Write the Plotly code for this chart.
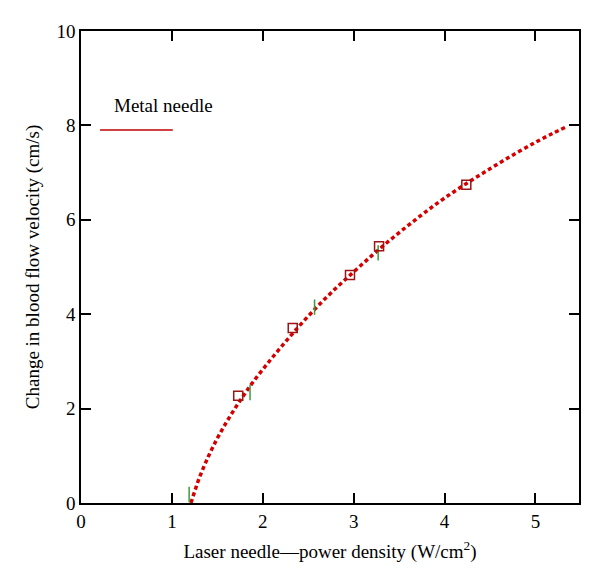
import plotly.graph_objects as go

# Fitted curve (red dotted)
curve_x = [1.21, 1.30, 1.40, 1.50, 1.60, 1.70, 1.80, 1.90, 2.05, 2.20, 2.36, 2.55, 2.75,
           2.98, 3.20, 3.40, 3.60, 3.80, 4.00, 4.25, 4.50, 4.75, 5.00, 5.20, 5.33]
curve_y = [0.00, 0.52, 0.98, 1.37, 1.71, 2.02, 2.31, 2.58, 2.95, 3.30, 3.66, 4.06, 4.45,
           4.86, 5.24, 5.57, 5.88, 6.18, 6.46, 6.78, 7.08, 7.37, 7.64, 7.84, 7.96]

# Open squares (measured points)
sq_x = [1.73, 2.33, 2.96, 3.28, 4.24]
sq_y = [2.27, 3.71, 4.83, 5.44, 6.74]

# Green short vertical marks
gr_x = [1.19, 1.86, 2.57, 3.27]
gr_y = [0.18, 2.34, 4.15, 5.30]

xticks = [0, 1, 2, 3, 4, 5]
yticks = [0, 2, 4, 6, 8, 10]

FONT = "Liberation Serif"

fig = go.Figure()
fig.add_trace(go.Scatter(
    x=curve_x, y=curve_y, mode="lines",
    line=dict(color="#d40000", width=3.5, dash="4px,3px", shape="spline", smoothing=1),
    showlegend=False, hoverinfo="skip"))
fig.add_trace(go.Scatter(
    x=gr_x, y=gr_y, mode="markers",
    marker=dict(symbol="line-ns", size=11, line=dict(color="#3c9a3c", width=1.5)),
    showlegend=False))
fig.add_trace(go.Scatter(
    x=sq_x, y=sq_y, mode="markers",
    marker=dict(symbol="square-open", size=9, color="#9b1515", line=dict(width=1.5)),
    showlegend=False))

fig.add_annotation(x=0.91, y=8.43, xref="x", yref="y", text="Metal needle",
                   showarrow=False, font=dict(family=FONT, size=19, color="black"))
fig.add_shape(type="line", x0=0.21, x1=1.01, y0=7.9, y1=7.9, xref="x", yref="y",
              line=dict(color="#c00000", width=1.5))

axis_common = dict(
    showline=True, linecolor="black", linewidth=1.5, mirror="ticks",
    ticks="inside", ticklen=10, tickcolor="black", tickwidth=1.5,
    showgrid=False, zeroline=False,
    tickfont=dict(family=FONT, size=19, color="black"),
)

fig.update_xaxes(range=[0, 5.48], tickvals=xticks, ticktext=[str(t) for t in xticks],
                 title=dict(text="Laser needle\u2014power density (W/cm<sup>2</sup>)",
                            font=dict(family=FONT, size=19, color="black"), standoff=14),
                 **axis_common)
fig.update_yaxes(range=[0, 10], tickvals=yticks, ticktext=[str(t) for t in yticks],
                 title=dict(text="Change in blood flow velocity (cm/s)",
                            font=dict(family=FONT, size=19, color="black"), standoff=12),
                 **axis_common)

fig.update_layout(
    width=600, height=585,
    margin=dict(l=73, r=29, t=23, b=90),
    plot_bgcolor="white", paper_bgcolor="white",
    font=dict(family=FONT, color="black"),
)

fig.write_html("out.html")
